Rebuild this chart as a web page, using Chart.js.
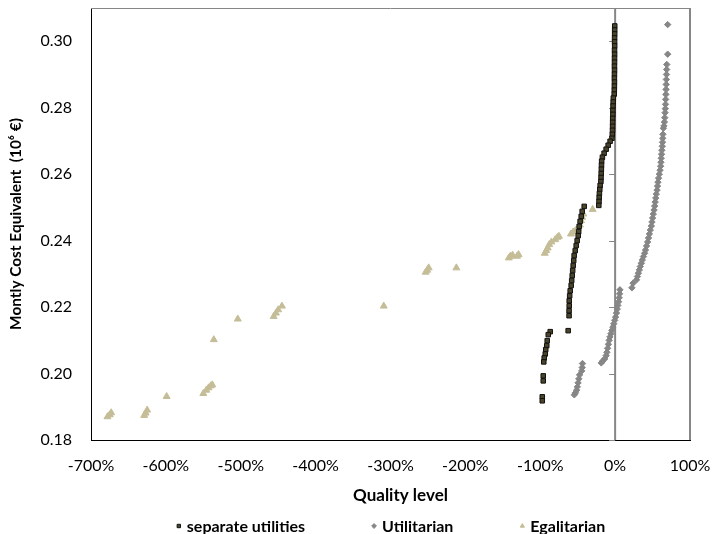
<!DOCTYPE html>
<html>
<head>
<meta charset="utf-8">
<script src="https://cdn.jsdelivr.net/npm/chart.js@4.4.1/dist/chart.umd.min.js"></script>
<style>
  html, body { margin: 0; padding: 0; background: #fff; }
</style>
</head>
<body>
<canvas id="chart" width="712" height="534"></canvas>
<script>
const xTicks = [-700, -600, -500, -400, -300, -200, -100, 0, 100];
const yTicks = [0.18, 0.20, 0.22, 0.24, 0.26, 0.28, 0.30];
const xTitle = 'Quality level';
const yTitle = 'Montly Cost Equivalent  (10⁶ €)';

// separate utilities (quality level in %, monthly cost in 10^6 €)
const sepQuality = [
  -0.5, -0.6, -0.6, -0.7, -0.7, -0.6, -0.8, -0.7, -0.8, -0.8, -0.9, -0.8, -0.9, -1.0, -0.9, -1.0, -1.1, -1.2,
  -2.4, -2.6, -2.8, -3.0, -3.0, -3.2, -3.3, -3.4, -3.5, -3.8, -4.2,
  -6.7, -9.3, -12.0, -14.7, -17.0,
  -18.0, -18.2, -18.4, -18.6, -18.8, -19.0, -20.0, -20.5, -21.0, -21.3, -21.5, -21.8,
  -41.3, -44.0, -45.3, -46.7, -48.0, -48.7, -49.3, -50.7, -52.0, -53.3, -54.7, -55.3,
  -56.0, -56.7, -57.3, -58.0, -58.7, -60.0, -60.7, -61.3, -61.3, -61.5, -61.5, -62.7,
  -86.7, -89.3, -90.7, -91.3, -92.7, -93.3, -94.7, -95.3, -96.0, -96.0, -97.3, -97.3
];
const sepCost = [
  0.3046, 0.3034, 0.3022, 0.3010, 0.2998, 0.2986, 0.2973, 0.2961, 0.2949, 0.2937, 0.2925, 0.2913, 0.2901, 0.2889, 0.2877, 0.2865, 0.2853, 0.2841,
  0.2829, 0.2817, 0.2805, 0.2792, 0.2780, 0.2768, 0.2756, 0.2744, 0.2732, 0.2720, 0.2708,
  0.2699, 0.2687, 0.2675, 0.2663, 0.2651,
  0.2639, 0.2627, 0.2615, 0.2602, 0.2590, 0.2578, 0.2566, 0.2554, 0.2542, 0.2530, 0.2518, 0.2506,
  0.2503, 0.2488, 0.2473, 0.2458, 0.2443, 0.2427, 0.2415, 0.2400, 0.2385, 0.2370, 0.2355, 0.2340,
  0.2325, 0.2310, 0.2295, 0.2280, 0.2265, 0.2249, 0.2234, 0.2219, 0.2204, 0.2189, 0.2174, 0.2129,
  0.2126, 0.2117, 0.2099, 0.2084, 0.2072, 0.2059, 0.2047, 0.2035, 0.1993, 0.1978, 0.1930, 0.1918
];

// Utilitarian
const utilQuality = [
  70.2, 70.2,
  69.0, 68.8, 68.6, 68.4, 68.2, 68.0, 67.8, 67.5, 67.3, 67.0,
  66.7, 66.3, 65.8, 65.2, 64.4,
  63.8, 63.6, 63.3, 63.0, 62.4, 62.0, 61.6, 61.2, 60.8,
  60.0, 59.0, 58.0, 57.2, 56.6, 56.0, 55.0, 54.2, 53.5, 52.8, 52.0,
  51.0, 50.0, 49.2, 48.4, 47.0, 45.8, 44.6, 43.4, 42.0, 40.6, 39.4,
  37.8, 36.4, 35.0, 33.6, 32.4, 31.0, 29.8, 28.6, 24.0, 22.4,
  6.4, 6.0, 5.4, 4.6, 3.6, 2.8, 1.8, 0.6, -0.6, -1.8, -3.0, -4.4,
  -5.6, -7.0, -8.0, -9.0, -10.0, -11.0, -12.0, -14.0, -16.5, -18.5,
  -43.6, -44.0, -44.6, -47.5, -48.5, -49.5, -50.5, -51.5, -53.0, -54.5
];
const utilCost = [
  0.3050, 0.2961,
  0.2930, 0.2915, 0.2900, 0.2885, 0.2870, 0.2855, 0.2840, 0.2825, 0.2810, 0.2797,
  0.2785, 0.2770, 0.2757, 0.2745, 0.2738,
  0.2720, 0.2708, 0.2696, 0.2684, 0.2672, 0.2660, 0.2648, 0.2636, 0.2624,
  0.2612, 0.2600, 0.2588, 0.2576, 0.2564, 0.2552, 0.2540, 0.2528, 0.2516, 0.2504, 0.2492,
  0.2480, 0.2468, 0.2456, 0.2444, 0.2432, 0.2420, 0.2408, 0.2396, 0.2384, 0.2372, 0.2362,
  0.2352, 0.2342, 0.2332, 0.2322, 0.2312, 0.2302, 0.2292, 0.2282, 0.2272, 0.2258,
  0.2252, 0.2240, 0.2228, 0.2216, 0.2205, 0.2194, 0.2182, 0.2170, 0.2160, 0.2150, 0.2140, 0.2130,
  0.2120, 0.2110, 0.2100, 0.2088, 0.2076, 0.2064, 0.2054, 0.2044, 0.2038, 0.2032,
  0.2030, 0.2018, 0.2008, 0.1996, 0.1984, 0.1972, 0.1960, 0.1950, 0.1942, 0.1936
];

// Egalitarian
const egalQuality = [
  -678, -675, -673,
  -629, -627, -625,
  -599,
  -550, -546, -543, -540, -538,
  -536,
  -504,
  -456, -453, -450, -445,
  -309,
  -253, -251, -249,
  -212,
  -142, -140, -137, -131, -129,
  -94, -92, -90, -88, -85, -80, -77, -75,
  -59, -56, -53, -49, -47, -45.5, -44, -42.5,
  -30
];
const egalCost = [
  0.1870, 0.1876, 0.1882,
  0.1874, 0.1881, 0.1890,
  0.1931,
  0.1940, 0.1950, 0.1957, 0.1963, 0.1966,
  0.2102,
  0.2164,
  0.2172, 0.2182, 0.2192, 0.2203,
  0.2203,
  0.2305, 0.2311, 0.2318,
  0.2318,
  0.2348, 0.2353, 0.2356, 0.2353, 0.2358,
  0.2362, 0.2370, 0.2378, 0.2388, 0.2396, 0.2403, 0.2410, 0.2413,
  0.2420, 0.2426, 0.2430, 0.2438, 0.2447, 0.2460, 0.2470, 0.2480,
  0.2494
];

const toPoints = (xs, ys) => xs.map((x, i) => ({ x: x, y: ys[i] }));

const FONT = 'Lato, "Open Sans", "Liberation Sans", sans-serif';
Chart.defaults.font.family = FONT;
Chart.defaults.color = '#000';

// plot frame (top/right) and the value axis crossing at 0 %
const frameAndZeroLine = {
  id: 'frameAndZeroLine',
  beforeDatasetsDraw(chart) {
    const { ctx, chartArea: a, scales: { x, y } } = chart;
    ctx.save();
    ctx.strokeStyle = '#868686';
    ctx.lineWidth = 1;
    ctx.beginPath();
    ctx.moveTo(a.left, a.top + 0.5);
    ctx.lineTo(a.right, a.top + 0.5);
    ctx.stroke();
    ctx.lineWidth = 2;
    ctx.beginPath();
    ctx.moveTo(a.right, a.top);
    ctx.lineTo(a.right, a.bottom);
    ctx.stroke();
    const x0 = x.getPixelForValue(0);
    ctx.beginPath();
    ctx.moveTo(x0, a.top);
    ctx.lineTo(x0, a.bottom);
    ctx.stroke();
    ctx.lineWidth = 1;
    yTicks.forEach(v => {
      const py = Math.round(y.getPixelForValue(v)) + 0.5;
      ctx.beginPath();
      ctx.moveTo(x0 - 6, py);
      ctx.lineTo(x0, py);
      ctx.stroke();
    });
    ctx.restore();
  }
};

// x axis title and legend row, items spaced like the office chart
const bottomLegend = {
  id: 'bottomLegend',
  afterDraw(chart) {
    const { ctx, chartArea: a } = chart;
    const gap = 66, markW = 11;
    const mid = (a.left + a.right) / 2;
    ctx.save();
    ctx.fillStyle = '#000';
    ctx.textAlign = 'center';
    ctx.textBaseline = 'middle';
    ctx.font = 'bold 17px ' + FONT;
    ctx.fillText(xTitle, mid + 10, a.bottom + 56);

    ctx.textAlign = 'left';
    ctx.font = 'bold 16px ' + FONT;
    const items = chart.data.datasets.map(ds => ({ ds, w: markW + ctx.measureText(ds.label).width }));
    const total = items.reduce((s, it) => s + it.w, 0) + gap * (items.length - 1);
    let x = mid - total / 2;
    const y = chart.height - 8;
    items.forEach(({ ds, w }) => {
      ctx.fillStyle = ds.backgroundColor;
      ctx.strokeStyle = ds.borderColor;
      ctx.lineWidth = 1;
      Chart.helpers.drawPoint(ctx, { pointStyle: ds.pointStyle, radius: 2.4, rotation: 0, borderWidth: 1 }, x + 3, y);
      ctx.fillStyle = '#000';
      ctx.fillText(ds.label, x + markW, y + 1);
      x += w + gap;
    });
    ctx.restore();
  }
};

new Chart(document.getElementById('chart'), {
  type: 'scatter',
  data: {
    datasets: [
      {
        label: 'separate utilities',
        data: toPoints(sepQuality, sepCost),
        pointStyle: 'rect',
        pointRadius: 3.2,
        backgroundColor: '#4A452A',
        borderColor: '#111111',
        borderWidth: 1
      },
      {
        label: 'Utilitarian',
        data: toPoints(utilQuality, utilCost),
        pointStyle: 'rectRot',
        pointRadius: 3.2,
        backgroundColor: '#868686',
        borderColor: '#868686',
        borderWidth: 1
      },
      {
        label: 'Egalitarian',
        data: toPoints(egalQuality, egalCost),
        pointStyle: 'triangle',
        pointRadius: 4,
        backgroundColor: '#C4BD97',
        borderColor: '#C4BD97',
        borderWidth: 1
      }
    ]
  },
  options: {
    responsive: false,
    animation: false,
    devicePixelRatio: 1,
    layout: { autoPadding: false, padding: { left: 0, right: 22, top: 8, bottom: 28 } },
    plugins: {
      legend: { display: false },
      tooltip: { enabled: false }
    },
    scales: {
      x: {
        type: 'linear',
        min: -700,
        max: 100,
        afterBuildTicks: s => { s.ticks = xTicks.map(v => ({ value: v })); },
        afterFit: s => { s.height = 66; s.paddingLeft = 0; s.paddingRight = 0; },
        grid: { display: false, drawTicks: false },
        border: { display: true, color: '#000', width: 1 },
        ticks: {
          padding: 16,
          font: { size: 16 },
          callback: v => v + '%'
        },
        title: { display: false }
      },
      y: {
        type: 'linear',
        min: 0.18,
        max: 0.31,
        afterBuildTicks: s => { s.ticks = yTicks.map(v => ({ value: v })); },
        afterFit: s => { s.width = 91; s.paddingTop = 0; s.paddingBottom = 0; },
        grid: { display: false, drawTicks: false },
        border: { display: true, color: '#000', width: 1 },
        ticks: {
          padding: 19,
          font: { size: 16 },
          callback: v => Number(v).toFixed(2)
        },
        title: {
          display: true,
          text: yTitle,
          font: { size: 15.4, weight: 'bold' },
          padding: { top: 7, bottom: 0 }
        }
      }
    }
  },
  plugins: [frameAndZeroLine, bottomLegend]
});
</script>
</body>
</html>
